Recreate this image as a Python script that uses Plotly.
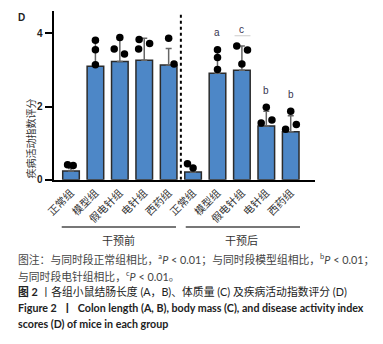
import plotly.graph_objects as go

# ---- data ----
groups = ["正常组", "模型组", "假电针组", "电针组", "西药组"]
periods = ["干预前", "干预后"]
means_before = [0.24, 3.10, 3.23, 3.26, 3.13]
means_after = [0.21, 2.91, 2.99, 1.47, 1.31]
sd_before = [0.07, 0.66, 0.60, 0.60, 0.45]
sd_after = [0.10, 0.66, 0.66, 0.40, 0.44]
points_before = [[0.41, 0.39], [3.81, 3.55, 3.14], [3.88, 3.57, 3.43], [3.57, 3.83, 3.72], [3.86, 3.16]]
points_after = [[0.44, 0.32], [3.55, 3.34, 3.01], [3.65, 3.54, 3.16], [1.55, 1.98, 1.63], [1.38, 1.87, 1.51]]
sig_letters = ["", "a", "c", "b", "b"]
jitter_before = [[-0.14, 0.09], [0, 0, 0], [0, -0.23, 0.19], [-0.23, -0.21, 0.22], [0, 0.22]]
jitter_after = [[-0.23, 0], [0, 0, 0], [-0.21, 0.23, 0], [-0.21, 0, 0.23], [-0.21, 0, 0.23]]

W, H = 383, 344
CJK = "Noto Sans CJK SC"

labels = groups + groups
means = means_before + means_after
sds = sd_before + sd_after
pts = points_before + points_after
jit = jitter_before + jitter_after
xs = list(range(len(labels)))

fig = go.Figure()
fig.add_trace(go.Bar(
    x=xs, y=means, width=0.68,
    marker=dict(color="#4d87c7", line=dict(color="#2b2b2b", width=1.5)),
    error_y=dict(type="data", symmetric=False, array=sds, arrayminus=[0] * len(sds),
                 color="#666666", thickness=1.5, width=3),
    showlegend=False, hoverinfo="skip",
))
px_, py_ = [], []
for i, (vals, js) in enumerate(zip(pts, jit)):
    for v, j in zip(vals, js):
        px_.append(i + j)
        py_.append(v)
fig.add_trace(go.Scatter(x=px_, y=py_, mode="markers", hoverinfo="skip",
                         marker=dict(color="black", size=7.5), showlegend=False, cliponaxis=False))

# significance letters
for k, lt in enumerate(sig_letters):
    if lt:
        i = 5 + k
        top = max(pts[i])
        fig.add_annotation(x=i, y=max(means[i] + sds[i], top) + 0.25, text=lt, showarrow=False,
                           yanchor="bottom", font=dict(size=10, color="#3a3550", family="Liberation Sans"))

# separator
fig.add_shape(type="line", x0=4.5, x1=4.5, y0=0, y1=4.56, xref="x", yref="y",
              line=dict(color="black", width=2, dash="dot"))
# small underline under 'c'
fig.add_shape(type="line", x0=6.7, x1=7.35, y0=3.93, y1=3.93, xref="x", yref="y",
              line=dict(color="#cccccc", width=1))

# group brackets & labels
ybr = 1 - 231 / H
for x0, x1, xc, lab in [(-0.38, 4.3, 1.95, periods[0]), (4.7, 9.38, 7.0, periods[1])]:
    fig.add_shape(type="line", x0=x0, x1=x1, y0=ybr, y1=ybr, xref="x", yref="paper",
                  line=dict(color="#777777", width=2))
    fig.add_annotation(x=xc, y=1 - 244 / H, xref="x", yref="paper", text=lab, showarrow=False,
                       yanchor="middle", font=dict(size=11, color="#333333", family=CJK))

# y title
fig.add_annotation(x=12 / W, y=1 - 98 / H, xref="paper", yref="paper", text="疾病活动指数评分",
                   textangle=-90, showarrow=False, font=dict(size=10, color="#333333", family=CJK))
# panel letter
fig.add_annotation(x=7 / W, y=1 - 10 / H, xref="paper", yref="paper", text="<b>D</b>", xanchor="left",
                   showarrow=False, font=dict(size=10, color="#222222", family="Liberation Sans"))

# caption
cap = [
    (264, "图注：与同时段正常组相比，<sup>a</sup><i>P</i> < 0.01；与同时段模型组相比，<sup>b</sup><i>P</i> < 0.01；", "#444444", 10.8),
    (281, "与同时段电针组相比，<sup>c</sup><i>P</i> < 0.01。", "#444444", 10.8),
    (297, "<b>图 2</b> 丨各组小鼠结肠长度 (A，B)、体质量 (C) 及疾病活动指数评分 (D)", "#222222", 10.8),
    (313, "<b>Figure 2  丨  Colon length (A, B), body mass (C), and disease activity index</b>", "#222222", 10.7),
    (329, "<b>scores (D) of mice in each group</b>", "#222222", 10.7),
]
for yy, t, c, fs in cap:
    fig.add_annotation(x=7 / W, y=1 - yy / H, xref="paper", yref="paper", text=t, xanchor="left",
                       yanchor="middle", showarrow=False,
                       font=dict(size=fs, color=c, family="Lato, " + CJK))

fig.update_layout(
    width=W, height=H, margin=dict(l=0, r=0, t=0, b=0),
    paper_bgcolor="white", plot_bgcolor="white",
    xaxis=dict(domain=[45.7 / W, 313 / W], range=[-0.712, 9.98], tickvals=xs, ticktext=labels,
               tickangle=-45, ticks="", showline=True, linewidth=2, linecolor="black",
               showgrid=False, zeroline=False, ticklabelstandoff=1,
               tickfont=dict(size=10.5, color="#333333", family=CJK)),
    yaxis=dict(domain=[1 - 183 / H, 1 - 11.4 / H], range=[0, 4.6], tickvals=[0, 2, 4],
               ticks="outside", ticklen=7, tickwidth=2, tickcolor="black",
               showline=True, linewidth=2, linecolor="black", showgrid=False, zeroline=False,
               tickfont=dict(size=10, color="#222222", family="Liberation Sans", weight="bold")),
    bargap=0.3,
)
fig.write_html("out.html", config={"displayModeBar": False},
               post_script="document.body.style.margin='0';")
